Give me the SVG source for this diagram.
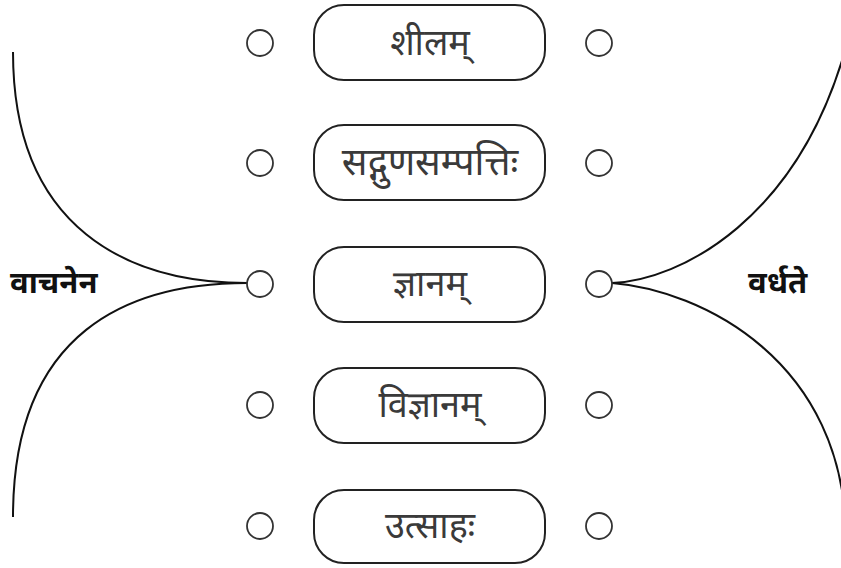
<svg xmlns="http://www.w3.org/2000/svg" width="841" height="568" viewBox="0 0 841 568">
<style>
.box{fill:#fff;stroke:#222;stroke-width:2}
.dot{fill:#fff;stroke:#333;stroke-width:1.8}
.lbl{font-family:"Noto Sans Devanagari","Noto Sans","Lohit Devanagari",sans-serif;font-size:36px;fill:#3a3a3a;text-anchor:middle}
.side{font-family:"Noto Sans Devanagari","Noto Sans","Lohit Devanagari",sans-serif;font-size:31px;font-weight:bold;fill:#111}
.con{fill:none;stroke:#111;stroke-width:2}
</style>
<rect width="841" height="568" fill="#fff"/>
<g id="connectors">
<path class="con" d="M13,52 C13,230 130,283 247,283"/>
<path class="con" d="M247,283 C130,283 13,330 13,517"/>
<path class="con" d="M612,283 C680,280 800,220 848,40"/>
<path class="con" d="M612,283 C700,290 846,360 846,540"/>
</g>
<g id="row1">
<circle class="dot" cx="260" cy="43" r="13"/>
<rect class="box" x="314" y="5" width="231" height="75" rx="30"/>
<text class="lbl" x="430" y="55">शीलम्</text>
<circle class="dot" cx="599" cy="43" r="13"/>
</g>
<g id="row2">
<circle class="dot" cx="260" cy="163" r="13"/>
<rect class="box" x="314" y="125" width="231" height="75" rx="30"/>
<text class="lbl" x="430" y="175" style="font-size:38px">सद्गुणसम्पत्तिः</text>
<circle class="dot" cx="599" cy="163" r="13"/>
</g>
<g id="row3">
<circle class="dot" cx="260" cy="284" r="13"/>
<rect class="box" x="314" y="247" width="231" height="75" rx="30"/>
<text class="lbl" x="430" y="296">ज्ञानम्</text>
<circle class="dot" cx="599" cy="284" r="13"/>
</g>
<g id="row4">
<circle class="dot" cx="260" cy="405" r="13"/>
<rect class="box" x="314" y="368" width="231" height="75" rx="30"/>
<text class="lbl" x="430" y="417">विज्ञानम्</text>
<circle class="dot" cx="599" cy="405" r="13"/>
</g>
<g id="row5">
<circle class="dot" cx="260" cy="526" r="13"/>
<rect class="box" x="314" y="490" width="231" height="73" rx="30"/>
<text class="lbl" x="430" y="538">उत्साहः</text>
<circle class="dot" cx="599" cy="526" r="13"/>
</g>
<g id="left-label"><text class="side" x="10" y="293">वाचनेन</text></g>
<g id="right-label"><text class="side" x="748" y="293">वर्धते</text></g>
</svg>
